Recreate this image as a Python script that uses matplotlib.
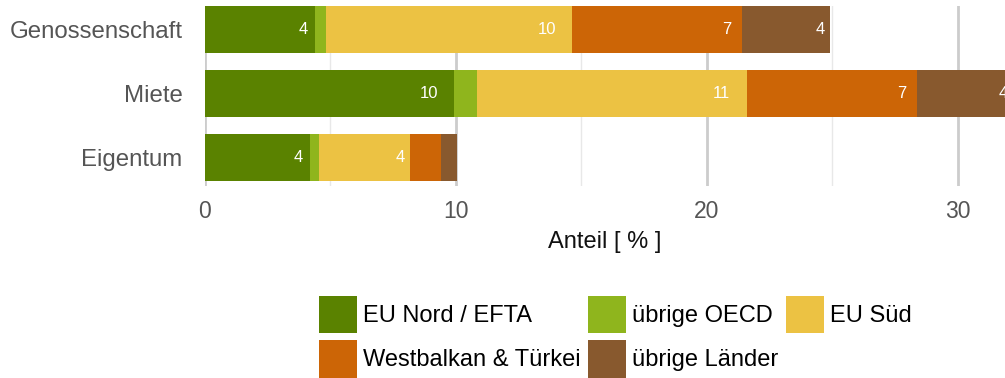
import matplotlib.pyplot as plt
import numpy as np

plt.rcParams["font.family"] = ["Liberation Sans", "DejaVu Sans"]

categories = ["Eigentum", "Miete", "Genossenschaft"]
groups = ["EU Nord / EFTA", "übrige OECD", "EU Süd", "Westbalkan & Türkei", "übrige Länder"]
colors = ["#5a8200", "#8fb51d", "#ecc243", "#cc6506", "#88592e"]

# share per origin group, rows follow `categories`
eu_nord = [4.20, 9.93, 4.39]
uebrige_oecd = [0.36, 0.92, 0.44]
eu_sued = [3.63, 10.76, 9.80]
westbalkan = [1.20, 6.77, 6.77]
uebrige_laender = [0.64, 3.86, 3.51]

series = [eu_nord, uebrige_oecd, eu_sued, westbalkan, uebrige_laender]


def main():
    fig = plt.figure(figsize=(10.05, 3.78), dpi=100)
    ax = fig.add_axes([0.2037, 1 - 186 / 378, 1 - 0.2037, 180 / 378])

    y = np.arange(len(categories))
    left = np.zeros(len(categories))
    handles = []
    for name, vals, col in zip(groups, series, colors):
        vals = np.array(vals)
        rects = ax.barh(y, vals, 0.73, left=left, color=col, label=name, zorder=3)
        handles.append(rects)
        # value labels sit just inside the right end of each wide segment
        for yi, l, v in zip(y, left, vals):
            if v >= 2:
                ax.text(l + 0.935 * v, yi, f"{round(v)}", ha="right", va="center",
                        color="white", fontsize=12, zorder=4)
        left += vals

    ax.set_xlim(0, 31.87)
    ax.set_ylim(-0.445, 2.365)
    ax.set_xticks([0, 10, 20, 30])
    ax.set_xticks([5, 15, 25], minor=True)
    ax.grid(axis="x", which="major", color="#cccccc", linewidth=2, zorder=0)
    ax.grid(axis="x", which="minor", color="#e8e8e8", linewidth=1, zorder=0)
    ax.set_yticks(y, categories)
    ax.tick_params(axis="both", which="both", length=0, labelcolor="#555555")
    ax.tick_params(axis="x", pad=10, labelsize=16.5)
    ax.tick_params(axis="y", pad=16, labelsize=17.3)
    for s in ax.spines.values():
        s.set_visible(False)
    ax.set_xlabel("Anteil [ % ]", fontsize=17, color="#111111", labelpad=6)

    order = [0, 3, 1, 4, 2]
    fig.legend([handles[i] for i in order], [groups[i] for i in order],
               loc="upper left", bbox_to_anchor=(319 / 1005, 1 - 296 / 378),
               ncol=3, frameon=False, fontsize=17, borderpad=0,
               handlelength=1.62, handleheight=2.05, handletextpad=0.26,
               columnspacing=0.3, labelspacing=0.3, borderaxespad=0)

    fig.savefig("out.png", dpi=100)


if __name__ == "__main__":
    main()
